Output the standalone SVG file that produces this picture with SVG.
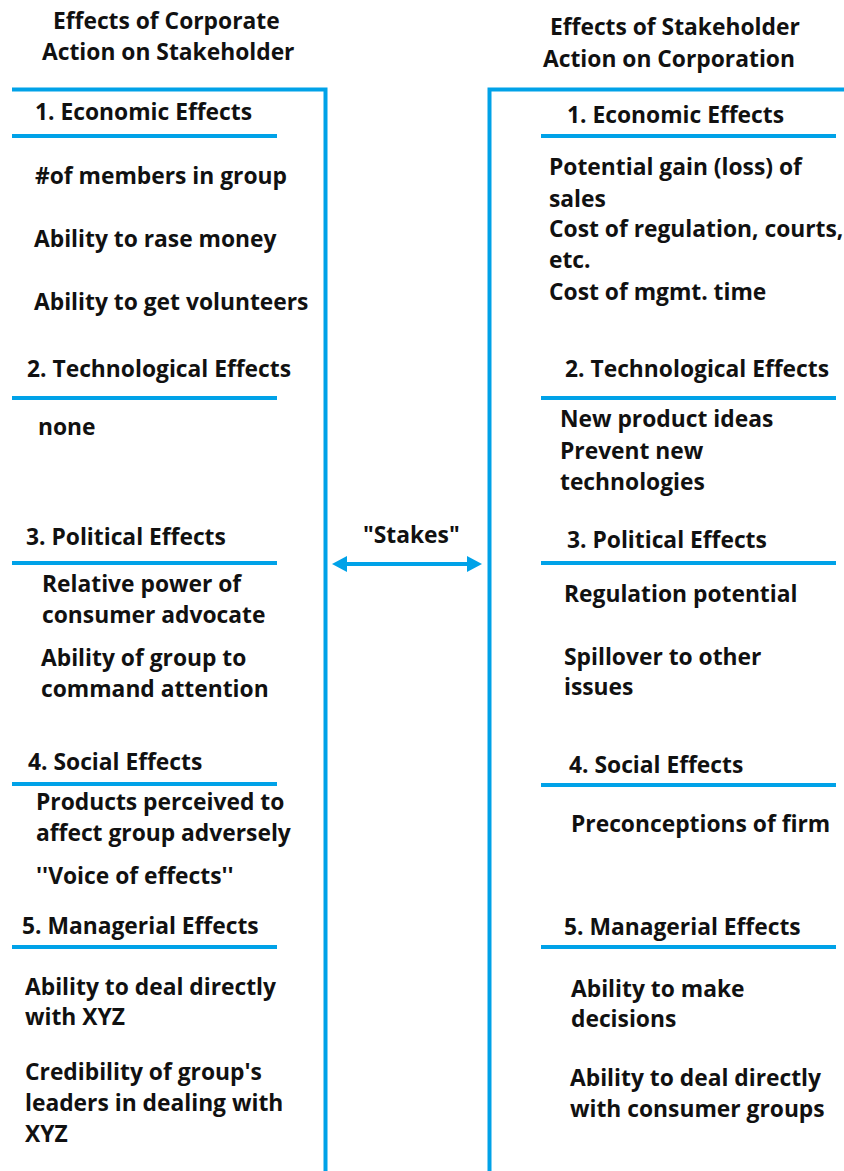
<svg xmlns="http://www.w3.org/2000/svg" width="844" height="1171" viewBox="0 0 844 1171">
  <style>
    text { font-family: "Open Sans", "Noto Sans", "Liberation Sans", sans-serif; font-weight: 700; font-size: 22.8px; fill: #111; }
    .rule { stroke: #00a2e8; stroke-width: 4; fill: none; }
  </style>
  <defs>
    <marker id="head" viewBox="0 0 15 16" markerWidth="15" markerHeight="16" refX="7" refY="8" markerUnits="userSpaceOnUse" orient="auto-start-reverse">
      <path d="M0,0 L15,8 L0,16 Z" fill="#00a2e8"/>
    </marker>
  </defs>
  <rect width="844" height="1171" fill="#fff"/>

  <!-- column frames -->
  <g id="frame">
    <path class="rule" d="M12,89.5 H325.5 V1171"/>
    <path class="rule" d="M844,89.5 H489.5 V1171"/>
  </g>

  <!-- left column: effects of corporate action on stakeholder -->
  <g id="left-title">
    <text x="53" y="29">Effects of Corporate</text>
    <text x="42" y="60">Action on Stakeholder</text>
  </g>
  <g id="left-economic">
    <text x="35" y="120">1. Economic Effects</text>
    <line class="rule" x1="12" y1="136" x2="277" y2="136"/>
    <text x="35" y="184">#of members in group</text>
    <text x="34" y="247">Ability to rase money</text>
    <text x="34" y="310">Ability to get volunteers</text>
  </g>
  <g id="left-technological">
    <text x="27" y="377">2. Technological Effects</text>
    <line class="rule" x1="12" y1="398" x2="277" y2="398"/>
    <text x="38" y="435">none</text>
  </g>
  <g id="left-political">
    <text x="26" y="545">3. Political Effects</text>
    <line class="rule" x1="12" y1="563" x2="277" y2="563"/>
    <text x="42" y="592">Relative power of</text>
    <text x="42" y="623">consumer advocate</text>
    <text x="41" y="666">Ability of group to</text>
    <text x="41" y="697">command attention</text>
  </g>
  <g id="left-social">
    <text x="28" y="770">4. Social Effects</text>
    <line class="rule" x1="12" y1="784" x2="277" y2="784"/>
    <text x="36" y="810">Products perceived to</text>
    <text x="36" y="841">affect group adversely</text>
    <text x="36" y="884">''Voice of effects''</text>
  </g>
  <g id="left-managerial">
    <text x="22" y="934">5. Managerial Effects</text>
    <line class="rule" x1="12" y1="947" x2="277" y2="947"/>
    <text x="25" y="995">Ability to deal directly</text>
    <text x="25" y="1025">with XYZ</text>
    <text x="25" y="1080">Credibility of group's</text>
    <text x="25" y="1111">leaders in dealing with</text>
    <text x="25" y="1142">XYZ</text>
  </g>

  <!-- right column: effects of stakeholder action on corporation -->
  <g id="right-title">
    <text x="550" y="35">Effects of Stakeholder</text>
    <text x="543" y="67">Action on Corporation</text>
  </g>
  <g id="right-economic">
    <text x="567" y="123">1. Economic Effects</text>
    <line class="rule" x1="541" y1="136" x2="836" y2="136"/>
    <text x="549" y="175">Potential gain (loss) of</text>
    <text x="549" y="207">sales</text>
    <text x="549" y="237">Cost of regulation, courts,</text>
    <text x="549" y="268">etc.</text>
    <text x="549" y="300">Cost of mgmt. time</text>
  </g>
  <g id="right-technological">
    <text x="565" y="377">2. Technological Effects</text>
    <line class="rule" x1="541" y1="398" x2="836" y2="398"/>
    <text x="560" y="427">New product ideas</text>
    <text x="560" y="459">Prevent new</text>
    <text x="560" y="490">technologies</text>
  </g>
  <g id="right-political">
    <text x="567" y="548">3. Political Effects</text>
    <line class="rule" x1="541" y1="563" x2="836" y2="563"/>
    <text x="564" y="602">Regulation potential</text>
    <text x="564" y="665">Spillover to other</text>
    <text x="564" y="695">issues</text>
  </g>
  <g id="right-social">
    <text x="569" y="773">4. Social Effects</text>
    <line class="rule" x1="541" y1="785" x2="836" y2="785"/>
    <text x="571" y="832">Preconceptions of firm</text>
  </g>
  <g id="right-managerial">
    <text x="564" y="935">5. Managerial Effects</text>
    <line class="rule" x1="541" y1="947" x2="836" y2="947"/>
    <text x="571" y="997">Ability to make</text>
    <text x="571" y="1027">decisions</text>
    <text x="570" y="1086">Ability to deal directly</text>
    <text x="570" y="1117">with consumer groups</text>
  </g>

  <!-- two-way "stakes" connector between the columns -->
  <g id="connectors">
    <line class="rule" x1="340" y1="564" x2="474" y2="564" marker-start="url(#head)" marker-end="url(#head)"/>
    <text x="363" y="543">"Stakes"</text>
  </g>
</svg>
